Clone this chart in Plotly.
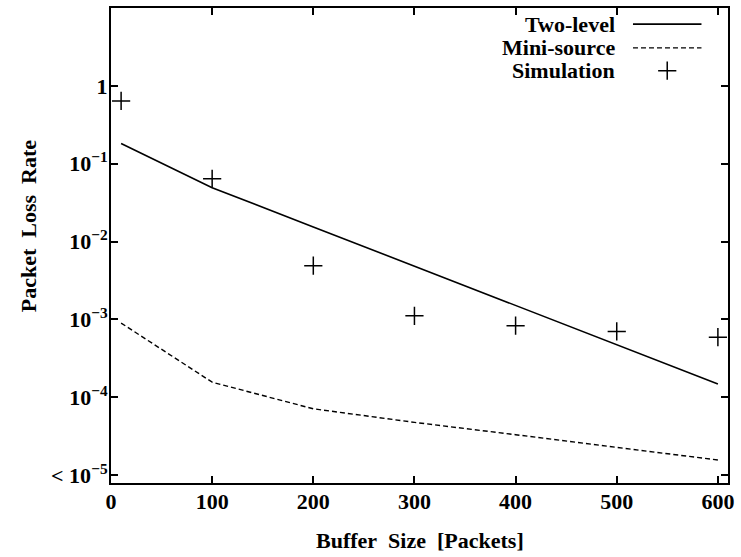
import plotly.graph_objects as go

# ---- data ----
buffer_sizes = [10, 100, 200, 300, 400, 500, 600]
two_level = [0.182, 0.0492, 0.0154, 0.00483, 0.00151, 0.000473, 0.000148]
mini_source = [8.97e-4, 1.56e-4, 7.1e-5, 4.75e-5, 3.3e-5, 2.25e-5, 1.56e-5]
simulation = [0.64, 0.064, 0.0049, 0.00111, 0.00083, 0.00070, 0.00059]

x_ticks = [0, 100, 200, 300, 400, 500, 600]
y_ticks = [1e-5, 1e-4, 1e-3, 1e-2, 1e-1, 1]
y_exponents = ["\u22125", "\u22124", "\u22123", "\u22122", "\u22121"]

series_names = ["Two-level", "Mini-source", "Simulation"]

FONT = "Liberation Serif"
BLACK = "#000000"

SUP = "<sup>%s</sup>"
y_ticktext = ["< 10" + SUP % y_exponents[0]] + ["10" + SUP % e for e in y_exponents[1:]] + ["1"]

# plot area in pixels
W, H = 741, 557
L, R, T, B = 111, 728.5, 6, 482.7
PW, PH = R - L, B - T

fig = go.Figure()

fig.add_trace(go.Scatter(x=buffer_sizes, y=two_level, mode="lines", name=series_names[0],
                         line=dict(color=BLACK, width=1.6), showlegend=False))
fig.add_trace(go.Scatter(x=buffer_sizes, y=mini_source, mode="lines", name=series_names[1],
                         line=dict(color=BLACK, width=1.4, dash="5px,3px"), showlegend=False))
fig.add_trace(go.Scatter(x=buffer_sizes, y=simulation, mode="markers", name=series_names[2],
                         marker=dict(symbol="cross-thin", size=13, color=BLACK,
                                     line=dict(color=BLACK, width=1.5)),
                         showlegend=False))

# legend samples on a hidden overlay axis (0..1 of the plot area)
leg_y = [0.966, 0.916, 0.868]
leg_x0, leg_x1, leg_text_x = 0.846, 0.957, 0.820
fig.add_trace(go.Scatter(x=[leg_x0, leg_x1], y=[leg_y[0]] * 2, mode="lines", xaxis="x2", yaxis="y2",
                         line=dict(color=BLACK, width=1.6), showlegend=False, hoverinfo="skip"))
fig.add_trace(go.Scatter(x=[leg_x0, leg_x1], y=[leg_y[1]] * 2, mode="lines", xaxis="x2", yaxis="y2",
                         line=dict(color=BLACK, width=1.4, dash="5px,3px"), showlegend=False, hoverinfo="skip"))
fig.add_trace(go.Scatter(x=[(leg_x0 + leg_x1) / 2], y=[leg_y[2]], mode="markers", xaxis="x2", yaxis="y2",
                         marker=dict(symbol="cross-thin", size=13, color=BLACK,
                                     line=dict(color=BLACK, width=1.5)),
                         showlegend=False, hoverinfo="skip"))

annotations = []
for name, yy in zip(series_names, leg_y):
    annotations.append(dict(text="<b>%s</b>" % name, xref="x domain", yref="y domain",
                            x=leg_text_x, y=yy, xanchor="right", yanchor="middle",
                            showarrow=False, font=dict(family=FONT, size=22, color=BLACK)))

# axis titles (paper coords are relative to the plot area)
annotations.append(dict(text="<b>Buffer\u00a0 Size\u00a0 [Packets]</b>", xref="paper", yref="paper",
                        x=0.5, y=(B - 540) / PH, xanchor="center", yanchor="middle",
                        showarrow=False, font=dict(family=FONT, size=22, color=BLACK)))
annotations.append(dict(text="<b>Packet\u00a0 Loss\u00a0 Rate</b>", xref="paper", yref="paper",
                        x=(28 - L) / PW, y=(B - 225) / PH, xanchor="center", yanchor="middle",
                        textangle=-90, showarrow=False, font=dict(family=FONT, size=22, color=BLACK)))

fig.update_layout(
    width=W, height=H,
    margin=dict(l=L, r=W - R, t=T, b=H - B),
    paper_bgcolor="white", plot_bgcolor="white",
    font=dict(family=FONT, color=BLACK),
    showlegend=False,
    annotations=annotations,
    xaxis=dict(range=[0, 610], tickvals=x_ticks, ticks="inside", ticklen=7, tickwidth=1.5,
               tickcolor=BLACK, showline=True, linecolor=BLACK, linewidth=2, mirror="allticks",
               showgrid=False, zeroline=False,
               tickfont=dict(family=FONT, size=22, color=BLACK, weight="bold"),
               ticklabelstandoff=-2),
    yaxis=dict(type="log", range=[-5.102, 1.0], tickvals=y_ticks, ticktext=y_ticktext,
               ticks="inside", ticklen=7, tickwidth=1.5, tickcolor=BLACK,
               showline=True, linecolor=BLACK, linewidth=2, mirror="allticks",
               showgrid=False, zeroline=False,
               tickfont=dict(family=FONT, size=22, color=BLACK, weight="bold"),
               ticklabelstandoff=-3),
    xaxis2=dict(overlaying="x", range=[0, 1], visible=False, fixedrange=True),
    yaxis2=dict(overlaying="y", range=[0, 1], visible=False, fixedrange=True),
)

fig.write_html("out.html")
